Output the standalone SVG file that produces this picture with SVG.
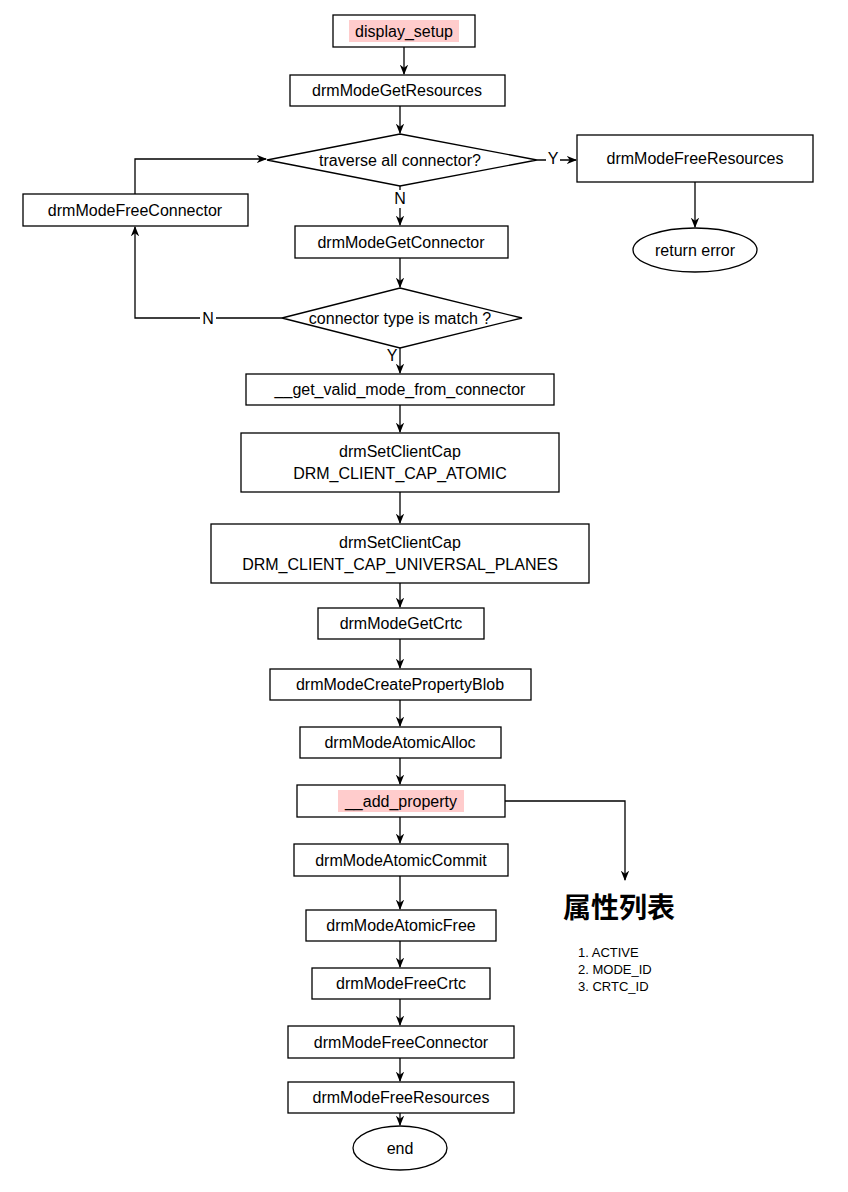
<svg xmlns="http://www.w3.org/2000/svg" width="848" height="1192" viewBox="0 0 848 1192">
<style>
.n{fill:#fff;stroke:#000;stroke-width:1.3}
.t{font-family:"Liberation Sans",Arial,sans-serif;font-size:16px;text-anchor:middle;fill:#000}
.c{fill:none;stroke:#000;stroke-width:1.3}
.hl{fill:#ffcccc}
</style>
<defs><marker id="a" viewBox="0 0 10 10" refX="9" refY="5" markerWidth="8" markerHeight="8" orient="auto"><path d="M0,1 L10,5 L0,9 L3,5z" fill="#000"/></marker></defs>
<rect width="848" height="1192" fill="#fff"/>
<g id="connectors">
<path class="c" marker-end="url(#a)" d="M404,47V74"/>
<path class="c" marker-end="url(#a)" d="M400,106V133"/>
<path class="c" marker-end="url(#a)" d="M537,160H576"/>
<path class="c" marker-end="url(#a)" d="M695,182V227"/>
<path class="c" marker-end="url(#a)" d="M400,186V225"/>
<path class="c" marker-end="url(#a)" d="M135,194V159H266"/>
<path class="c" marker-end="url(#a)" d="M400,258V287"/>
<path class="c" marker-end="url(#a)" d="M282,318H135V227"/>
<path class="c" marker-end="url(#a)" d="M400,348V373"/>
<path class="c" marker-end="url(#a)" d="M400,405V432"/>
<path class="c" marker-end="url(#a)" d="M400,492V523"/>
<path class="c" marker-end="url(#a)" d="M400,583V607"/>
<path class="c" marker-end="url(#a)" d="M400,639V668"/>
<path class="c" marker-end="url(#a)" d="M400,700V726"/>
<path class="c" marker-end="url(#a)" d="M400,758V784"/>
<path class="c" marker-end="url(#a)" d="M505,801H625V880"/>
<path class="c" marker-end="url(#a)" d="M400,817V843"/>
<path class="c" marker-end="url(#a)" d="M400,876V909"/>
<path class="c" marker-end="url(#a)" d="M400,941V967"/>
<path class="c" marker-end="url(#a)" d="M400,999V1025"/>
<path class="c" marker-end="url(#a)" d="M400,1058V1081"/>
<path class="c" marker-end="url(#a)" d="M400,1113V1125"/>
<rect x="546" y="150" width="14" height="18" fill="#fff"/>
<text class="t" x="553" y="164">Y</text>
<rect x="393" y="190" width="14" height="18" fill="#fff"/>
<text class="t" x="400" y="204">N</text>
<rect x="200" y="309" width="16" height="18" fill="#fff"/>
<text class="t" x="208" y="324">N</text>
<text class="t" x="392" y="361">Y</text>
</g>
<g id="display_setup"><rect class="n" x="333" y="15" width="142" height="32"/><rect class="hl" x="349" y="20" width="110" height="22"/><text class="t" x="404" y="37">display_setup</text></g>
<g id="getres"><rect class="n" x="290" y="75" width="215" height="31"/><text class="t" x="397" y="96">drmModeGetResources</text></g>
<g id="traverse"><path class="n" d="M400,134L537,160L400,186L267,160Z"/><text class="t" x="400" y="166">traverse all connector?</text></g>
<g id="freeres1"><rect class="n" x="577" y="135" width="236" height="47"/><text class="t" x="695" y="164">drmModeFreeResources</text></g>
<g id="reterr"><ellipse class="n" cx="695" cy="250" rx="62" ry="22"/><text class="t" x="695" y="256">return error</text></g>
<g id="freeconn1"><rect class="n" x="23" y="194" width="225" height="32"/><text class="t" x="135" y="216">drmModeFreeConnector</text></g>
<g id="getconn"><rect class="n" x="295" y="226" width="213" height="32"/><text class="t" x="401" y="248">drmModeGetConnector</text></g>
<g id="match"><path class="n" d="M400,288L522,318L400,348L282,318Z"/><text class="t" x="400" y="324">connector type is match ?</text></g>
<g id="getvalid"><rect class="n" x="246" y="374" width="308" height="31"/><text class="t" x="400" y="395">__get_valid_mode_from_connector</text></g>
<g id="cap1"><rect class="n" x="241" y="433" width="318" height="59"/><text class="t" x="400" y="457">drmSetClientCap</text><text class="t" x="400" y="479">DRM_CLIENT_CAP_ATOMIC</text></g>
<g id="cap2"><rect class="n" x="211" y="524" width="378" height="59"/><text class="t" x="400" y="548">drmSetClientCap</text><text class="t" x="400" y="570">DRM_CLIENT_CAP_UNIVERSAL_PLANES</text></g>
<g id="getcrtc"><rect class="n" x="318" y="608" width="166" height="31"/><text class="t" x="401" y="629">drmModeGetCrtc</text></g>
<g id="blob"><rect class="n" x="270" y="669" width="261" height="31"/><text class="t" x="400" y="690">drmModeCreatePropertyBlob</text></g>
<g id="alloc"><rect class="n" x="300" y="727" width="201" height="31"/><text class="t" x="400" y="748">drmModeAtomicAlloc</text></g>
<g id="addprop"><rect class="n" x="297" y="785" width="208" height="32"/><rect class="hl" x="338" y="790" width="126" height="22"/><text class="t" x="401" y="807">__add_property</text></g>
<g id="commit"><rect class="n" x="294" y="844" width="214" height="32"/><text class="t" x="401" y="866">drmModeAtomicCommit</text></g>
<g id="afree"><rect class="n" x="306" y="910" width="190" height="31"/><text class="t" x="401" y="931">drmModeAtomicFree</text></g>
<g id="freecrtc"><rect class="n" x="312" y="968" width="178" height="31"/><text class="t" x="401" y="989">drmModeFreeCrtc</text></g>
<g id="freeconn2"><rect class="n" x="288" y="1026" width="226" height="32"/><text class="t" x="401" y="1048">drmModeFreeConnector</text></g>
<g id="freeres2"><rect class="n" x="288" y="1082" width="226" height="31"/><text class="t" x="401" y="1103">drmModeFreeResources</text></g>
<g id="end"><ellipse class="n" cx="400" cy="1148" rx="47" ry="22"/><text class="t" x="400" y="1154">end</text></g>
<g id="proplist">
<text x="619" y="918" style="font-family:'Liberation Sans','Noto Sans CJK SC',sans-serif;font-size:28px;font-weight:bold;text-anchor:middle">属性列表</text>
<g style="font-family:'Liberation Sans',Arial,sans-serif;font-size:13px">
<text x="578" y="957">1. ACTIVE</text>
<text x="578" y="974">2. MODE_ID</text>
<text x="578" y="991">3. CRTC_ID</text>
</g></g>
</svg>
